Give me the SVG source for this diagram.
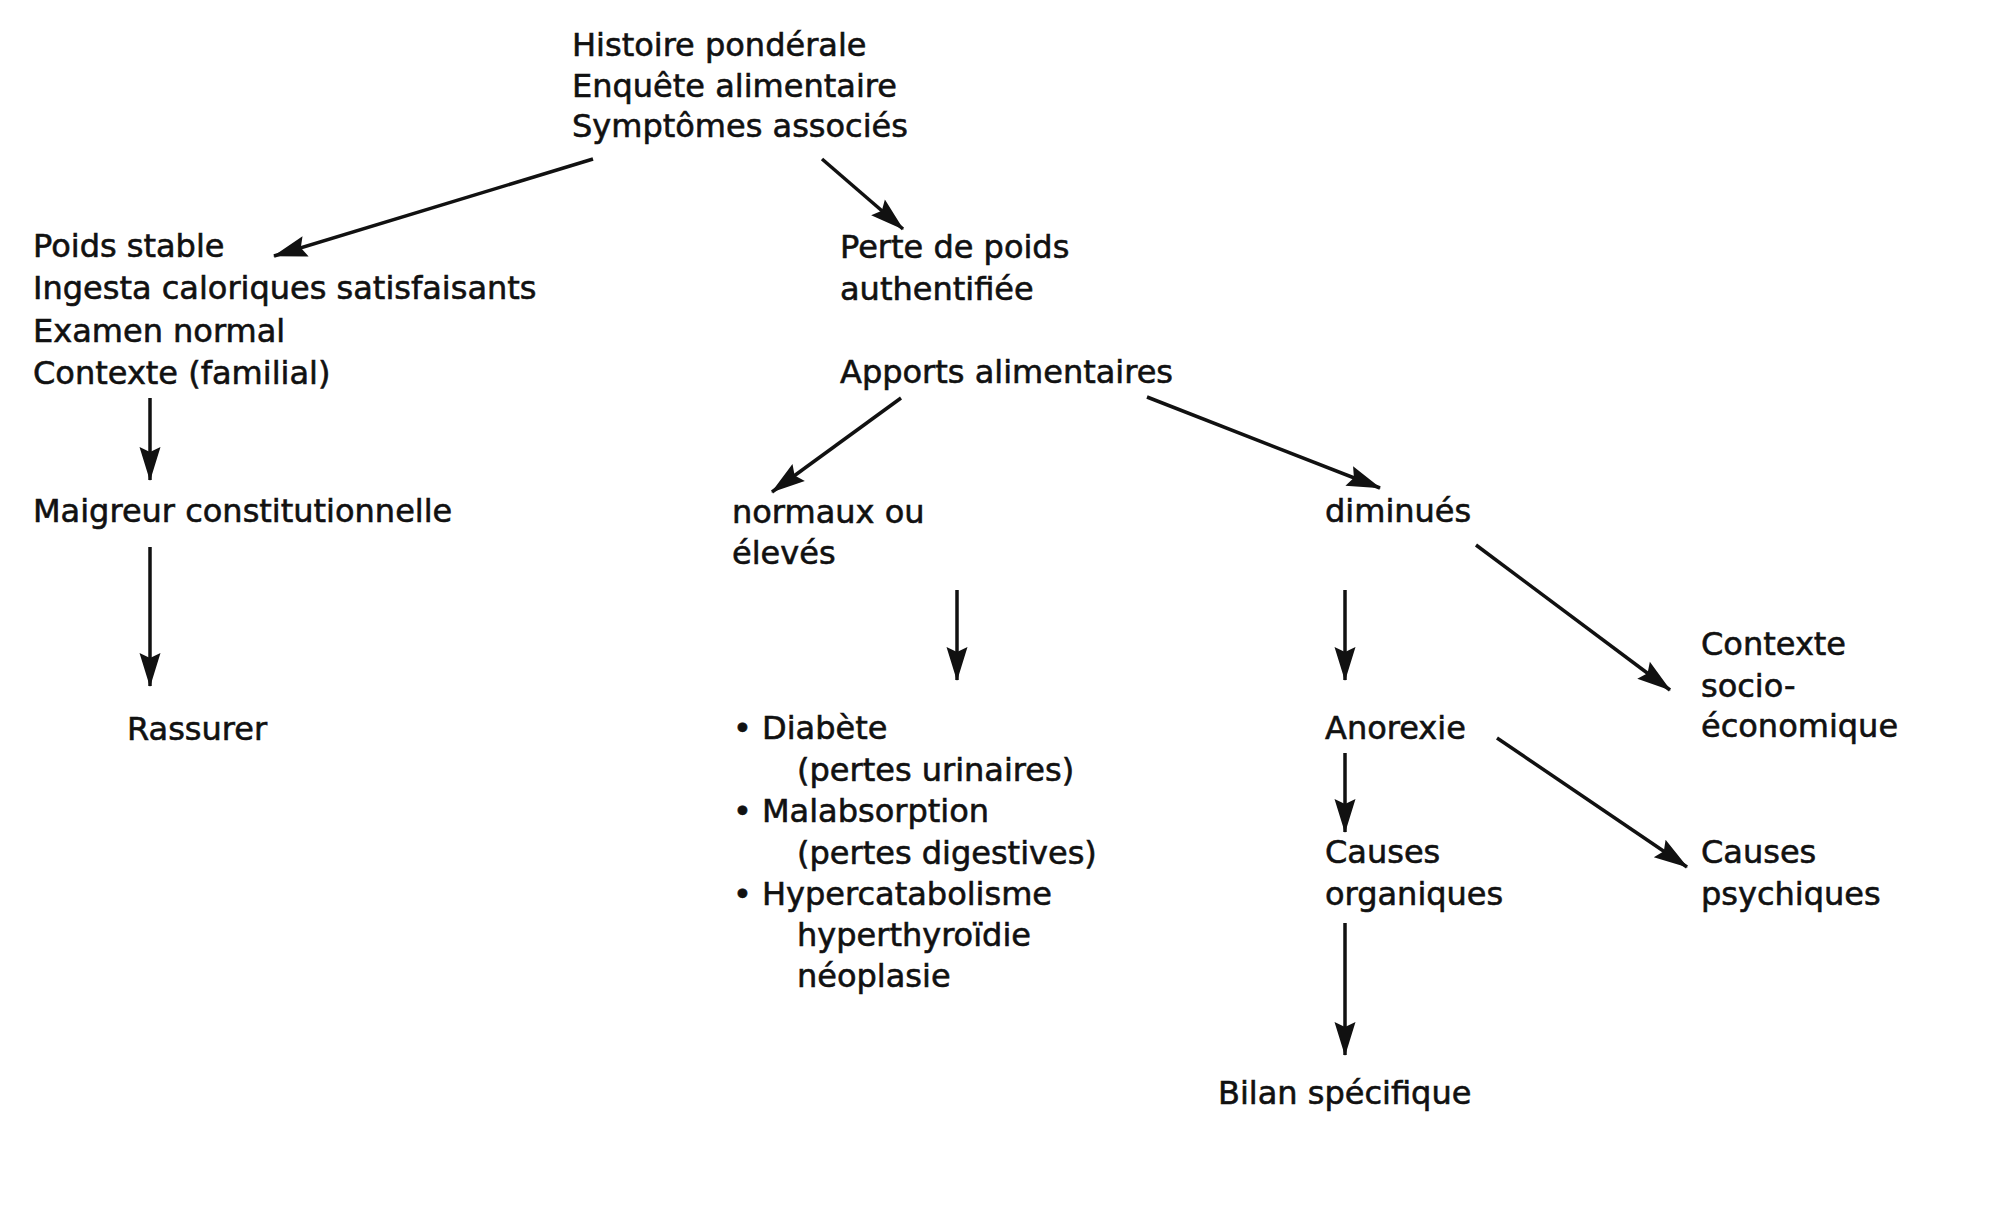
<svg xmlns="http://www.w3.org/2000/svg" width="2000" height="1215" viewBox="0 0 2000 1215">
<style>
text{font-family:"DejaVu Sans","Liberation Sans",sans-serif;font-size:32px;fill:#111;stroke:#111;stroke-width:0.6}
.c{stroke:#111;stroke-width:3.5;fill:none}
</style>
<defs>
<marker id="ah" markerUnits="userSpaceOnUse" markerWidth="40" markerHeight="28" viewBox="-36 -14 38 28" refX="0" refY="0" orient="auto">
<path d="M1,0 L-33,-10.5 L-28,0 L-33,10.5 Z" fill="#111"/>
</marker>
</defs>
<rect width="2000" height="1215" fill="#fff"/>
<g id="connectors">
<path class="c" d="M593,159 L274,256" marker-end="url(#ah)"/>
<path class="c" d="M822,159 L903,229" marker-end="url(#ah)"/>
<path class="c" d="M150,398 L150,480" marker-end="url(#ah)"/>
<path class="c" d="M150,547 L150,686" marker-end="url(#ah)"/>
<path class="c" d="M901,398 L772,492" marker-end="url(#ah)"/>
<path class="c" d="M1147,397 L1380,488" marker-end="url(#ah)"/>
<path class="c" d="M957,590 L957,680" marker-end="url(#ah)"/>
<path class="c" d="M1345,590 L1345,680" marker-end="url(#ah)"/>
<path class="c" d="M1476,545 L1670,690" marker-end="url(#ah)"/>
<path class="c" d="M1345,753 L1345,832" marker-end="url(#ah)"/>
<path class="c" d="M1497,738 L1687,867" marker-end="url(#ah)"/>
<path class="c" d="M1345,923 L1345,1055" marker-end="url(#ah)"/>
</g>
<g id="n-histoire">
<text x="572" y="56">Histoire pondérale</text>
<text x="572" y="97">Enquête alimentaire</text>
<text x="572" y="137">Symptômes associés</text>
</g>
<g id="n-poids-stable">
<text x="33" y="257">Poids stable</text>
<text x="33" y="299">Ingesta caloriques satisfaisants</text>
<text x="33" y="342">Examen normal</text>
<text x="33" y="384">Contexte (familial)</text>
</g>
<g id="n-maigreur"><text x="33" y="522">Maigreur constitutionnelle</text></g>
<g id="n-rassurer"><text x="127" y="740">Rassurer</text></g>
<g id="n-perte">
<text x="840" y="258">Perte de poids</text>
<text x="840" y="300">authentifiée</text>
</g>
<g id="n-apports"><text x="840" y="383">Apports alimentaires</text></g>
<g id="n-normaux">
<text x="732" y="523">normaux ou</text>
<text x="732" y="564">élevés</text>
</g>
<g id="n-diminues"><text x="1325" y="522">diminués</text></g>
<g id="n-causes-liste">
<text x="733" y="739">•</text><text x="762" y="739">Diabète</text>
<text x="797" y="781">(pertes urinaires)</text>
<text x="733" y="822">•</text><text x="762" y="822">Malabsorption</text>
<text x="797" y="864">(pertes digestives)</text>
<text x="733" y="905">•</text><text x="762" y="905">Hypercatabolisme</text>
<text x="797" y="946">hyperthyroïdie</text>
<text x="797" y="987">néoplasie</text>
</g>
<g id="n-contexte-socio">
<text x="1701" y="655">Contexte</text>
<text x="1701" y="697">socio-</text>
<text x="1701" y="737">économique</text>
</g>
<g id="n-anorexie"><text x="1325" y="739">Anorexie</text></g>
<g id="n-causes-org">
<text x="1325" y="863">Causes</text>
<text x="1325" y="905">organiques</text>
</g>
<g id="n-causes-psy">
<text x="1701" y="863">Causes</text>
<text x="1701" y="905">psychiques</text>
</g>
<g id="n-bilan"><text x="1218" y="1104">Bilan spécifique</text></g>
</svg>
